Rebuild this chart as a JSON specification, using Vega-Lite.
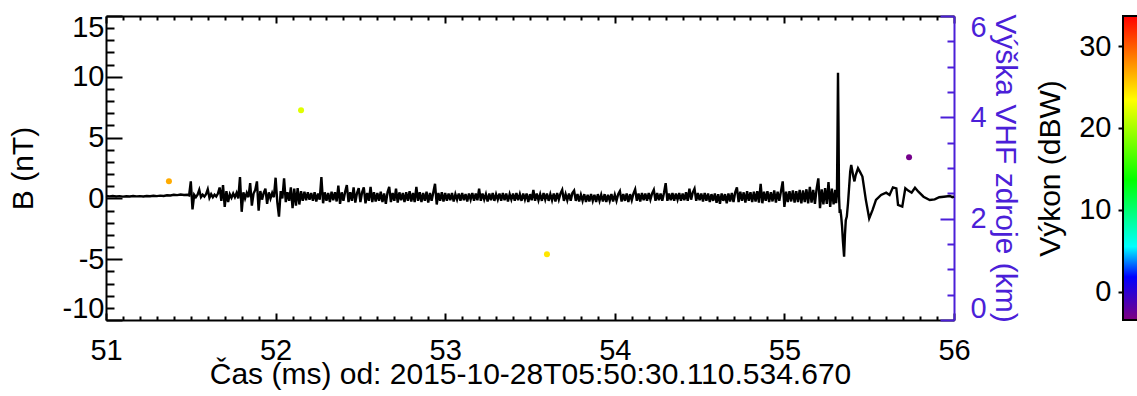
{
  "$schema": "https://vega.github.io/schema/vega-lite/v6.json",
  "padding": {"left": 8, "top": 13, "right": 0, "bottom": 5},
  "config": {
    "font": "Liberation Sans",
    "view": {"stroke": null},
    "axis": {
      "grid": false,
      "labelFont": "Liberation Sans",
      "titleFont": "Liberation Sans",
      "labelFontSize": 29,
      "titleFontSize": 30,
      "titleFontWeight": "normal",
      "labelColor": "black",
      "titleColor": "black",
      "domainColor": "black",
      "tickColor": "black",
      "domainWidth": 2,
      "tickWidth": 2,
      "labelOverlap": false,
      "labelBound": false
    }
  },
  "datasets": {
    "sources": [
      {"t": 51.371, "h": 2.74, "p": 26.8},
      {"t": 52.150, "h": 4.14, "p": 22.2},
      {"t": 53.600, "h": 1.30, "p": 24.4},
      {"t": 55.735, "h": 3.21, "p": -3.0}
    ]
  },
  "bounds": "flush",
  "spacing": 169,
  "hconcat": [
    {
      "width": 848,
      "height": 304,
      "data": {"values": [
        {"t":51.00,"b":0.2},{"t":51.02,"b":0.17},{"t":51.04,"b":0.2},{"t":51.06,"b":0.16},{"t":51.08,"b":0.19},{"t":51.10,"b":0.15},{"t":51.12,"b":0.18},{"t":51.14,"b":0.16},{"t":51.16,"b":0.2},{"t":51.18,"b":0.17},
        {"t":51.20,"b":0.19},{"t":51.22,"b":0.16},{"t":51.24,"b":0.2},{"t":51.26,"b":0.18},{"t":51.28,"b":0.22},{"t":51.30,"b":0.19},{"t":51.32,"b":0.23},{"t":51.34,"b":0.2},{"t":51.36,"b":0.26},{"t":51.38,"b":0.24},
        {"t":51.40,"b":0.3},{"t":51.42,"b":0.27},{"t":51.44,"b":0.32},{"t":51.46,"b":0.28},{"t":51.48,"b":0.3},{"t":51.49,"b":0.25},
        {"t":51.50,"b":1.4},{"t":51.51,"b":-0.9},{"t":51.52,"b":0.3},{"t":51.53,"b":0.1},{"t":51.54,"b":0.3},{"t":51.55,"b":0.7},{"t":51.56,"b":0.1},{"t":51.57,"b":0.3},{"t":51.58,"b":0.15},{"t":51.59,"b":0.35},
        {"t":51.60,"b":0.75},{"t":51.61,"b":0.05},{"t":51.62,"b":0.35},{"t":51.63,"b":0.1},{"t":51.64,"b":0.3},{"t":51.65,"b":0.15},{"t":51.66,"b":0.4},{"t":51.67,"b":0.9},{"t":51.68,"b":-0.2},{"t":51.69,"b":1.1},
        {"t":51.70,"b":-0.7},{"t":51.71,"b":0.6},{"t":51.72,"b":-0.3},{"t":51.73,"b":0.35},{"t":51.74,"b":0.05},{"t":51.75,"b":0.4},{"t":51.76,"b":0.1},{"t":51.77,"b":0.45},{"t":51.78,"b":0.0},{"t":51.79,"b":1.75},
        {"t":51.80,"b":-1.1},{"t":51.81,"b":0.5},{"t":51.82,"b":0.0},{"t":51.83,"b":0.45},{"t":51.84,"b":0.1},{"t":51.85,"b":1.25},{"t":51.86,"b":-0.6},{"t":51.87,"b":0.4},{"t":51.88,"b":0.7},{"t":51.89,"b":1.4},
        {"t":51.90,"b":-1.0},{"t":51.91,"b":0.6},{"t":51.92,"b":-0.1},{"t":51.93,"b":0.45},{"t":51.94,"b":0.8},{"t":51.95,"b":-0.45},{"t":51.96,"b":0.5},{"t":51.97,"b":0.0},{"t":51.98,"b":0.45},{"t":51.99,"b":0.1},
        {"t":52.00,"b":1.7},{"t":52.01,"b":-0.3},{"t":52.02,"b":-1.5},{"t":52.03,"b":0.6},{"t":52.04,"b":0.0},{"t":52.05,"b":1.65},{"t":52.06,"b":-0.3},{"t":52.07,"b":0.5},{"t":52.08,"b":-0.2},{"t":52.09,"b":0.9},
        {"t":52.10,"b":-0.8},{"t":52.11,"b":0.8},{"t":52.12,"b":-0.6},{"t":52.13,"b":0.85},{"t":52.14,"b":-0.5},{"t":52.15,"b":0.6},{"t":52.16,"b":-0.2},{"t":52.17,"b":0.55},{"t":52.18,"b":-0.15},{"t":52.19,"b":0.5},
        {"t":52.20,"b":-0.1},{"t":52.21,"b":0.45},{"t":52.22,"b":-0.2},{"t":52.23,"b":0.5},{"t":52.24,"b":-0.25},{"t":52.25,"b":0.4},{"t":52.26,"b":-0.1},{"t":52.27,"b":1.75},{"t":52.28,"b":-0.4},{"t":52.29,"b":0.5},
        {"t":52.30,"b":-0.2},{"t":52.31,"b":0.45},{"t":52.32,"b":-0.3},{"t":52.33,"b":0.55},{"t":52.34,"b":-0.15},{"t":52.35,"b":0.5},{"t":52.36,"b":-0.25},{"t":52.37,"b":1.05},{"t":52.38,"b":-0.45},{"t":52.39,"b":0.5},
        {"t":52.40,"b":-0.2},{"t":52.41,"b":0.55},{"t":52.42,"b":1.1},{"t":52.43,"b":-0.3},{"t":52.44,"b":0.5},{"t":52.45,"b":-0.2},{"t":52.46,"b":0.9},{"t":52.47,"b":-0.35},{"t":52.48,"b":0.45},{"t":52.49,"b":0.85},
        {"t":52.50,"b":-0.3},{"t":52.51,"b":0.5},{"t":52.52,"b":0.9},{"t":52.53,"b":-0.4},{"t":52.54,"b":0.45},{"t":52.55,"b":-0.2},{"t":52.56,"b":0.95},{"t":52.57,"b":-0.3},{"t":52.58,"b":0.5},{"t":52.59,"b":-0.25},
        {"t":52.60,"b":0.45},{"t":52.61,"b":-0.2},{"t":52.62,"b":0.55},{"t":52.63,"b":-0.3},{"t":52.64,"b":0.4},{"t":52.65,"b":-0.45},{"t":52.66,"b":0.5},{"t":52.67,"b":0.95},{"t":52.68,"b":-0.3},{"t":52.69,"b":0.45},
        {"t":52.70,"b":-0.2},{"t":52.71,"b":0.8},{"t":52.72,"b":-0.35},{"t":52.73,"b":0.5},{"t":52.74,"b":-0.15},{"t":52.75,"b":0.45},{"t":52.76,"b":-0.3},{"t":52.77,"b":0.5},{"t":52.78,"b":-0.2},{"t":52.79,"b":0.6},
        {"t":52.80,"b":-0.25},{"t":52.81,"b":0.45},{"t":52.82,"b":-0.3},{"t":52.83,"b":0.95},{"t":52.84,"b":-0.2},{"t":52.85,"b":0.5},{"t":52.86,"b":-0.3},{"t":52.87,"b":0.45},{"t":52.88,"b":-0.2},{"t":52.89,"b":0.55},
        {"t":52.90,"b":-0.35},{"t":52.91,"b":0.45},{"t":52.92,"b":-0.2},{"t":52.93,"b":0.5},{"t":52.94,"b":1.2},{"t":52.95,"b":-0.5},{"t":52.96,"b":0.45},{"t":52.97,"b":-0.2},{"t":52.98,"b":0.5},{"t":52.99,"b":-0.25},
        {"t":53.00,"b":0.45},{"t":53.01,"b":-0.2},{"t":53.02,"b":0.4},{"t":53.03,"b":-0.15},{"t":53.04,"b":0.45},{"t":53.05,"b":-0.25},{"t":53.06,"b":0.35},{"t":53.07,"b":-0.1},{"t":53.08,"b":0.4},{"t":53.09,"b":-0.2},
        {"t":53.10,"b":0.45},{"t":53.11,"b":-0.15},{"t":53.12,"b":0.35},{"t":53.13,"b":-0.25},{"t":53.14,"b":0.4},{"t":53.15,"b":-0.1},{"t":53.16,"b":0.45},{"t":53.17,"b":-0.2},{"t":53.18,"b":0.4},{"t":53.19,"b":-0.15},
        {"t":53.20,"b":0.8},{"t":53.21,"b":-0.2},{"t":53.22,"b":0.4},{"t":53.23,"b":-0.1},{"t":53.24,"b":0.35},{"t":53.25,"b":-0.25},{"t":53.26,"b":0.4},{"t":53.27,"b":-0.15},{"t":53.28,"b":0.45},{"t":53.29,"b":-0.2},
        {"t":53.30,"b":0.35},{"t":53.31,"b":-0.1},{"t":53.32,"b":0.4},{"t":53.33,"b":-0.2},{"t":53.34,"b":0.45},{"t":53.35,"b":-0.15},{"t":53.36,"b":0.4},{"t":53.37,"b":-0.25},{"t":53.38,"b":0.35},{"t":53.39,"b":-0.1},
        {"t":53.40,"b":0.4},{"t":53.41,"b":-0.2},{"t":53.42,"b":0.45},{"t":53.43,"b":-0.15},{"t":53.44,"b":0.35},{"t":53.45,"b":-0.2},{"t":53.46,"b":0.4},{"t":53.47,"b":-0.1},{"t":53.48,"b":0.4},{"t":53.49,"b":-0.3},
        {"t":53.50,"b":0.35},{"t":53.51,"b":-0.15},{"t":53.52,"b":0.7},{"t":53.53,"b":-0.2},{"t":53.54,"b":0.4},{"t":53.55,"b":-0.15},{"t":53.56,"b":0.35},{"t":53.57,"b":-0.2},{"t":53.58,"b":0.45},{"t":53.59,"b":-0.1},
        {"t":53.60,"b":0.4},{"t":53.61,"b":-0.2},{"t":53.62,"b":0.35},{"t":53.63,"b":-0.15},{"t":53.64,"b":0.4},{"t":53.65,"b":-0.25},{"t":53.66,"b":0.45},{"t":53.67,"b":-0.1},{"t":53.68,"b":0.4},{"t":53.69,"b":0.7},
        {"t":53.70,"b":-0.2},{"t":53.71,"b":0.35},{"t":53.72,"b":-0.15},{"t":53.73,"b":0.4},{"t":53.74,"b":-0.2},{"t":53.75,"b":0.45},{"t":53.76,"b":0.65},{"t":53.77,"b":-0.2},{"t":53.78,"b":0.35},{"t":53.79,"b":-0.25},
        {"t":53.80,"b":0.3},{"t":53.81,"b":-0.2},{"t":53.82,"b":0.35},{"t":53.83,"b":-0.3},{"t":53.84,"b":0.3},{"t":53.85,"b":-0.25},{"t":53.86,"b":0.35},{"t":53.87,"b":-0.2},{"t":53.88,"b":0.3},{"t":53.89,"b":-0.3},
        {"t":53.90,"b":0.35},{"t":53.91,"b":-0.2},{"t":53.92,"b":0.3},{"t":53.93,"b":-0.25},{"t":53.94,"b":0.35},{"t":53.95,"b":-0.3},{"t":53.96,"b":0.3},{"t":53.97,"b":-0.2},{"t":53.98,"b":0.35},{"t":53.99,"b":-0.25},
        {"t":54.00,"b":0.3},{"t":54.01,"b":-0.2},{"t":54.02,"b":0.35},{"t":54.03,"b":0.6},{"t":54.04,"b":-0.25},{"t":54.05,"b":0.35},{"t":54.06,"b":-0.2},{"t":54.07,"b":0.4},{"t":54.08,"b":-0.3},{"t":54.09,"b":0.35},
        {"t":54.10,"b":-0.15},{"t":54.11,"b":0.4},{"t":54.12,"b":0.75},{"t":54.13,"b":-0.2},{"t":54.14,"b":0.4},{"t":54.15,"b":-0.25},{"t":54.16,"b":0.45},{"t":54.17,"b":-0.15},{"t":54.18,"b":0.4},{"t":54.19,"b":-0.2},
        {"t":54.20,"b":0.45},{"t":54.21,"b":-0.1},{"t":54.22,"b":0.4},{"t":54.23,"b":0.7},{"t":54.24,"b":-0.2},{"t":54.25,"b":0.45},{"t":54.26,"b":-0.15},{"t":54.27,"b":0.4},{"t":54.28,"b":-0.2},{"t":54.29,"b":0.45},
        {"t":54.30,"b":1.25},{"t":54.31,"b":-0.2},{"t":54.32,"b":0.4},{"t":54.33,"b":-0.15},{"t":54.34,"b":0.45},{"t":54.35,"b":-0.2},{"t":54.36,"b":0.4},{"t":54.37,"b":-0.1},{"t":54.38,"b":0.45},{"t":54.39,"b":-0.2},
        {"t":54.40,"b":0.4},{"t":54.41,"b":-0.15},{"t":54.42,"b":0.5},{"t":54.43,"b":-0.2},{"t":54.44,"b":0.8},{"t":54.45,"b":-0.1},{"t":54.46,"b":0.5},{"t":54.47,"b":0.8},{"t":54.48,"b":-0.2},{"t":54.49,"b":0.45},
        {"t":54.50,"b":-0.15},{"t":54.51,"b":0.4},{"t":54.52,"b":-0.25},{"t":54.53,"b":0.45},{"t":54.54,"b":-0.2},{"t":54.55,"b":0.4},{"t":54.56,"b":-0.3},{"t":54.57,"b":0.35},{"t":54.58,"b":-0.2},{"t":54.59,"b":0.4},
        {"t":54.60,"b":-0.35},{"t":54.61,"b":0.35},{"t":54.62,"b":-0.45},{"t":54.63,"b":0.4},{"t":54.64,"b":-0.2},{"t":54.65,"b":0.35},{"t":54.66,"b":-0.4},{"t":54.67,"b":0.4},{"t":54.68,"b":-0.25},{"t":54.69,"b":0.45},
        {"t":54.70,"b":-0.3},{"t":54.71,"b":0.5},{"t":54.72,"b":0.9},{"t":54.73,"b":-0.3},{"t":54.74,"b":0.55},{"t":54.75,"b":-0.2},{"t":54.76,"b":0.5},{"t":54.77,"b":-0.35},{"t":54.78,"b":0.6},{"t":54.79,"b":-0.2},
        {"t":54.80,"b":0.5},{"t":54.81,"b":-0.3},{"t":54.82,"b":0.55},{"t":54.83,"b":-0.25},{"t":54.84,"b":0.6},{"t":54.85,"b":-0.35},{"t":54.86,"b":1.2},{"t":54.87,"b":-0.4},{"t":54.88,"b":0.55},{"t":54.89,"b":-0.2},
        {"t":54.90,"b":0.6},{"t":54.91,"b":-0.3},{"t":54.92,"b":0.5},{"t":54.93,"b":-0.25},{"t":54.94,"b":0.65},{"t":54.95,"b":-0.35},{"t":54.96,"b":0.55},{"t":54.97,"b":-0.2},{"t":54.98,"b":0.6},{"t":54.99,"b":1.4},
        {"t":55.00,"b":-0.7},{"t":55.01,"b":0.55},{"t":55.02,"b":-0.3},{"t":55.03,"b":0.6},{"t":55.04,"b":-0.25},{"t":55.05,"b":0.65},{"t":55.06,"b":-0.35},{"t":55.07,"b":0.6},{"t":55.08,"b":-0.3},{"t":55.09,"b":0.7},
        {"t":55.10,"b":-0.4},{"t":55.11,"b":0.65},{"t":55.12,"b":-0.3},{"t":55.13,"b":0.75},{"t":55.14,"b":-0.4},{"t":55.15,"b":0.95},{"t":55.16,"b":-0.35},{"t":55.17,"b":0.7},{"t":55.18,"b":-0.45},{"t":55.19,"b":0.8},
        {"t":55.20,"b":1.65},{"t":55.21,"b":-0.8},{"t":55.22,"b":0.75},{"t":55.23,"b":-0.5},{"t":55.24,"b":0.85},{"t":55.25,"b":-0.45},{"t":55.26,"b":1.35},{"t":55.27,"b":-0.7},{"t":55.28,"b":0.8},{"t":55.29,"b":-0.5},
        {"t":55.30,"b":0.7},{"t":55.305,"b":-0.4},{"t":55.31,"b":0.5},{"t":55.313,"b":5.0},{"t":55.316,"b":10.34},{"t":55.319,"b":6.0},{"t":55.322,"b":0.2},{"t":55.326,"b":-1.2},{"t":55.33,"b":-0.9},{"t":55.335,"b":-1.5},
        {"t":55.34,"b":-2.3},{"t":55.345,"b":-3.5},{"t":55.352,"b":-4.8},{"t":55.357,"b":-3.0},{"t":55.362,"b":-1.8},{"t":55.368,"b":-1.5},{"t":55.375,"b":-0.4},{"t":55.382,"b":1.0},{"t":55.388,"b":2.2},{"t":55.394,"b":2.75},
        {"t":55.405,"b":1.9},{"t":55.413,"b":1.4},{"t":55.42,"b":1.9},{"t":55.434,"b":2.48},{"t":55.445,"b":2.2},{"t":55.46,"b":1.8},{"t":55.48,"b":-0.1},{"t":55.50,"b":-1.64},{"t":55.52,"b":-0.95},{"t":55.54,"b":-0.13},
        {"t":55.57,"b":0.28},{"t":55.60,"b":0.47},{"t":55.62,"b":0.28},{"t":55.64,"b":0.91},{"t":55.66,"b":0.83},{"t":55.67,"b":-0.54},{"t":55.695,"b":-0.68},{"t":55.713,"b":0.83},{"t":55.73,"b":0.64},{"t":55.75,"b":0.47},
        {"t":55.77,"b":0.87},{"t":55.79,"b":0.55},{"t":55.82,"b":0.14},{"t":55.857,"b":-0.13},{"t":55.886,"b":-0.08},{"t":55.913,"b":0.1},{"t":55.94,"b":0.14},{"t":55.975,"b":0.2},{"t":55.99,"b":0.1},{"t":56.00,"b":0.15}
      ]},
      "layer": [
        {
          "mark": {"type": "line", "color": "black", "strokeWidth": 2.4, "strokeJoin": "miter"},
          "encoding": {
            "x": {
              "field": "t", "type": "quantitative",
              "scale": {"domain": [51, 56], "nice": false, "zero": false},
              "axis": {
                "orient": "bottom",
                "title": "Čas (ms) od: 2015-10-28T05:50:30.110.534.670",
                "values": [51, 52, 53, 54, 55, 56],
                "labelExpr": "toString(datum.value)",
                "tickSize": -7,
                "labelPadding": 23,
                "labelFlush": false,
                "titlePadding": -6
              }
            },
            "y": {
              "field": "b", "type": "quantitative",
              "scale": {"domain": [-10, 15], "nice": false, "zero": false},
              "axis": {
                "orient": "left",
                "title": "B (nT)",
                "values": [-10, -5, 0, 5, 10, 15],
                "labelExpr": "toString(datum.value)",
                "tickSize": -16,
                "labelPadding": 18,
                "labelFlush": true,
                "labelFlushOffset": 3,
                "titlePadding": 24
              }
            }
          }
        },
        {
          "mark": {"type": "line", "opacity": 0},
          "encoding": {
            "x": {
              "field": "t", "type": "quantitative",
              "axis": {
                "orient": "bottom", "title": null, "labels": false, "domain": false,
                "values": [51.1,51.2,51.3,51.4,51.5,51.6,51.7,51.8,51.9,52.1,52.2,52.3,52.4,52.5,52.6,52.7,52.8,52.9,53.1,53.2,53.3,53.4,53.5,53.6,53.7,53.8,53.9,54.1,54.2,54.3,54.4,54.5,54.6,54.7,54.8,54.9,55.1,55.2,55.3,55.4,55.5,55.6,55.7,55.8,55.9],
                "tickSize": -4
              }
            },
            "y": {
              "field": "b", "type": "quantitative",
              "scale": {"domain": [-10, 15], "nice": false, "zero": false},
              "axis": {
                "orient": "left", "title": null, "labels": false, "domain": false,
                "values": [-9,-8,-7,-6,-4,-3,-2,-1,1,2,3,4,6,7,8,9,11,12,13,14],
                "tickSize": -8
              }
            }
          }
        },
        {
          "data": {"name": "sources"},
          "mark": {"type": "point", "filled": true, "size": 36, "opacity": 1},
          "encoding": {
            "x": {
              "field": "t", "type": "quantitative",
              "axis": {
                "orient": "top", "title": null, "labels": false,
                "values": [51, 52, 53, 54, 55, 56],
                "tickSize": -7
              }
            },
            "y": {
              "field": "h", "type": "quantitative",
              "scale": {"domain": [0, 6], "nice": false, "zero": false},
              "axis": {
                "orient": "right",
                "title": "Výška VHF zdroje (km)",
                "values": [0, 2, 4, 6],
                "labelExpr": "toString(datum.value)",
                "tickSize": -14,
                "labelPadding": 30,
                "labelFlush": true,
                "labelFlushOffset": 3,
                "titlePadding": 3,
                "domainColor": "#4b1fd8",
                "tickColor": "#4b1fd8",
                "labelColor": "#4b1fd8",
                "titleColor": "#4b1fd8"
              }
            },
            "color": {
              "field": "p", "type": "quantitative",
              "scale": {
                "domain": [-3.46, 1.8, 5.5, 13.6, 23.4, 33.67],
                "range": ["#800080", "#0000ff", "#00ffff", "#00ff00", "#ffff00", "#ff0000"],
                "interpolate": "rgb"
              },
              "legend": null
            }
          }
        },
        {
          "data": {"name": "sources"},
          "mark": {"type": "point", "opacity": 0},
          "encoding": {
            "x": {
              "field": "t", "type": "quantitative",
              "axis": {
                "orient": "top", "title": null, "labels": false, "domain": false,
                "values": [51.1,51.2,51.3,51.4,51.5,51.6,51.7,51.8,51.9,52.1,52.2,52.3,52.4,52.5,52.6,52.7,52.8,52.9,53.1,53.2,53.3,53.4,53.5,53.6,53.7,53.8,53.9,54.1,54.2,54.3,54.4,54.5,54.6,54.7,54.8,54.9,55.1,55.2,55.3,55.4,55.5,55.6,55.7,55.8,55.9],
                "tickSize": -4
              }
            },
            "y": {
              "field": "h", "type": "quantitative",
              "scale": {"domain": [0, 6], "nice": false, "zero": false},
              "axis": {
                "orient": "right", "title": null, "labels": false, "domain": false,
                "values": [0.5,1,1.5,2.5,3,3.5,4.5,5,5.5],
                "tickSize": -7,
                "tickColor": "#4b1fd8"
              }
            }
          }
        }
      ],
      "resolve": {"scale": {"y": "independent"}, "axis": {"x": "independent", "y": "independent"}}
    },
    {
      "width": 20,
      "height": 304,
      "data": {"values": [{"lo": -3.46, "hi": 33.67}]},
      "mark": {
        "type": "rect",
        "stroke": "black",
        "strokeWidth": 2,
        "fill": {
          "gradient": "linear",
          "x1": 0, "y1": 1, "x2": 0, "y2": 0,
          "stops": [
            {"offset": 0, "color": "#800080"},
            {"offset": 0.1417, "color": "#0000ff"},
            {"offset": 0.2413, "color": "#00ffff"},
            {"offset": 0.4595, "color": "#00ff00"},
            {"offset": 0.7234, "color": "#ffff00"},
            {"offset": 1, "color": "#ff0000"}
          ]
        }
      },
      "encoding": {
        "y": {
          "field": "lo", "type": "quantitative",
          "scale": {"domain": [-3.46, 33.67], "nice": false, "zero": false},
          "axis": {
            "orient": "left",
            "title": "Výkon (dBW)",
            "values": [0, 10, 20, 30],
            "labelExpr": "toString(datum.value)",
            "tickSize": 5,
            "labelPadding": 7,
            "labelFlush": false,
            "domain": false,
            "titlePadding": 13
          }
        },
        "y2": {"field": "hi"}
      }
    }
  ]
}
